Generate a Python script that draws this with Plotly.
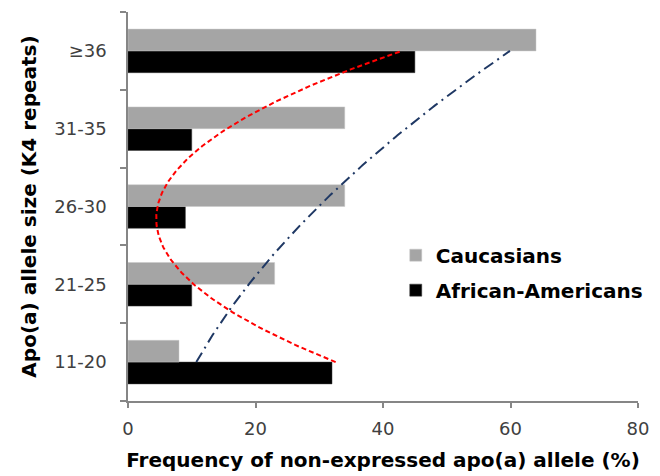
import numpy as np
import plotly.graph_objects as go

categories = ["11-20", "21-25", "26-30", "31-35", "≥36"]
caucasians = [8, 23, 34, 34, 64]
african_americans = [32, 10, 9, 10, 45]
x_ticks = [0, 20, 40, 60, 80]

FONT = "DejaVu Sans"
AXIS_GREY = "#868686"

idx = np.arange(len(categories))
t = np.linspace(0, len(categories) - 1, 200)
# Excel-style 2nd order polynomial trendlines (x = category number)
fit_aa = np.polyval(np.polyfit(idx + 1, african_americans, 2), t + 1)
fit_ca = np.polyval(np.polyfit(idx + 1, caucasians, 2), t + 1)

fig = go.Figure()
fig.add_trace(go.Bar(
    y=categories, x=african_americans, orientation="h", name="African-Americans",
    marker=dict(color="#000000", line=dict(color="#3a3a3a", width=0.5)),
    legendrank=2, legendgroup="aa",
))
fig.add_trace(go.Bar(
    y=categories, x=caucasians, orientation="h", name="Caucasians",
    marker=dict(color="#A5A5A5", line=dict(color="#c8c8c8", width=0.5)),
    legendrank=1, legendgroup="ca",
))
fig.add_trace(go.Scatter(
    x=fit_aa, y=t, yaxis="y2", mode="lines", showlegend=False,
    line=dict(color="#FF0000", width=2, dash="5px,3px"), hoverinfo="skip",
))
fig.add_trace(go.Scatter(
    x=fit_ca, y=t, yaxis="y2", mode="lines", showlegend=False,
    line=dict(color="#1F3864", width=2, dash="11px,5px,2px,5px"), hoverinfo="skip",
))

# page body has an 8px margin: size the figure so the plot lands where the reference is
fig.update_layout(
    width=652, height=468,
    margin=dict(l=120, r=22, t=4, b=75),
    paper_bgcolor="white", plot_bgcolor="white",
    barmode="group", bargap=0.44, bargroupgap=0,
    font=dict(family=FONT, color="#404040", size=18),
    xaxis=dict(
        range=[0, 80], tickvals=x_ticks, showgrid=False, zeroline=False,
        showline=True, linecolor=AXIS_GREY, linewidth=1.5,
        ticks="outside", ticklen=5, tickcolor=AXIS_GREY, tickwidth=1.5,
        tickfont=dict(size=18, color="#404040"), ticklabelstandoff=6,
        title=dict(text="<b>Frequency of non-expressed apo(a) allele (%)</b>",
                   font=dict(size=20, color="#000000"), standoff=15),
        automargin=False,
    ),
    yaxis=dict(
        type="category", categoryorder="array", categoryarray=categories,
        range=[-0.5, 4.5], showgrid=False, zeroline=False,
        showline=True, linecolor=AXIS_GREY, linewidth=1.5,
        ticks="outside", tickson="boundaries", ticklen=6, tickcolor=AXIS_GREY, tickwidth=1.5,
        tickfont=dict(size=18, color="#404040"), ticklabelstandoff=16,
        title=dict(text="<b>Apo(a) allele size (K4 repeats)</b>",
                   font=dict(size=20, color="#000000"), standoff=12),
        automargin=False,
    ),
    yaxis2=dict(
        overlaying="y", range=[-0.5, 4.5], visible=False,
    ),
    legend=dict(
        x=0.525, y=0.33, xanchor="left", yanchor="middle",
        traceorder="grouped", tracegroupgap=6,
        font=dict(family=FONT, size=20, color="#000000", weight="bold"),
        bgcolor="rgba(0,0,0,0)", itemwidth=30,
    ),
)

fig.write_html("out.html")
